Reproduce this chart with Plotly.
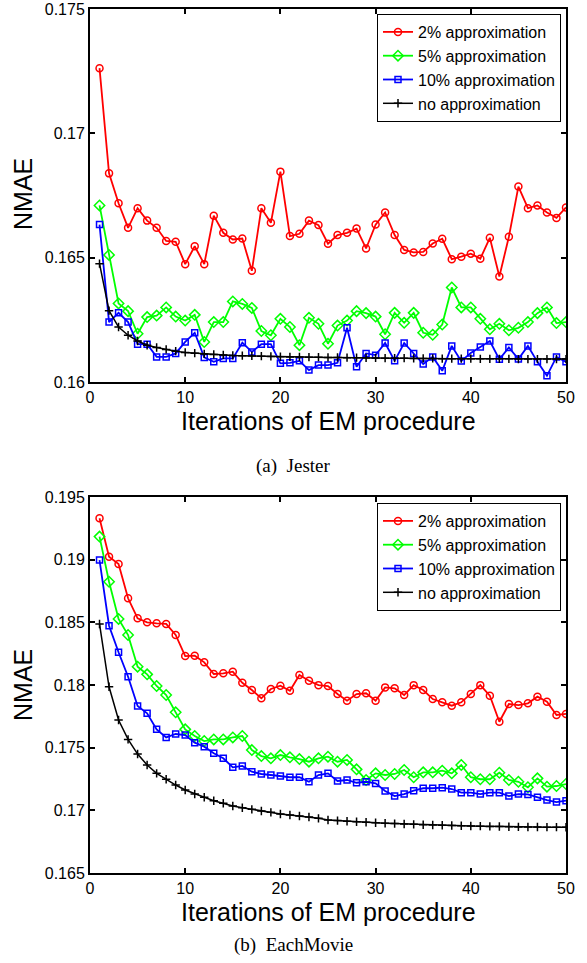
import plotly.graph_objects as go

W, H = 587, 963

iterations = list(range(1, 51))

# ---- (a) Jester ----
jester_2pct = [0.17262, 0.16839, 0.16719, 0.16620, 0.16699, 0.16649, 0.16620, 0.16567, 0.16564, 0.16474,
               0.16546, 0.16474, 0.16669, 0.16600, 0.16573, 0.16577, 0.16447, 0.16699, 0.16640, 0.16846,
               0.16587, 0.16596, 0.16649, 0.16631, 0.16556, 0.16591, 0.16600, 0.16617, 0.16537, 0.16633,
               0.16682, 0.16591, 0.16531, 0.16521, 0.16523, 0.16557, 0.16576, 0.16494, 0.16504, 0.16516,
               0.16496, 0.16580, 0.16424, 0.16584, 0.16786, 0.16699, 0.16710, 0.16682, 0.16660, 0.16702]
jester_5pct = [0.16710, 0.16511, 0.16316, 0.16285, 0.16194, 0.16261, 0.16267, 0.16300, 0.16263, 0.16247,
               0.16270, 0.16161, 0.16241, 0.16241, 0.16324, 0.16314, 0.16298, 0.16205, 0.16188, 0.16254,
               0.16221, 0.16148, 0.16258, 0.16234, 0.16154, 0.16227, 0.16247, 0.16285, 0.16277, 0.16263,
               0.16192, 0.16278, 0.16238, 0.16278, 0.16198, 0.16190, 0.16231, 0.16380, 0.16300, 0.16300,
               0.16254, 0.16212, 0.16234, 0.16208, 0.16218, 0.16241, 0.16277, 0.16300, 0.16237, 0.16241]
jester_10pct = [0.16633, 0.16241, 0.16278, 0.16241, 0.16152, 0.16152, 0.16101, 0.16101, 0.16115, 0.16161,
                0.16198, 0.16099, 0.16081, 0.16095, 0.16095, 0.16158, 0.16121, 0.16152, 0.16152, 0.16075,
                0.16077, 0.16085, 0.16048, 0.16068, 0.16068, 0.16077, 0.16218, 0.16061, 0.16115, 0.16108,
                0.16157, 0.16085, 0.16157, 0.16115, 0.16072, 0.16101, 0.16045, 0.16145, 0.16084, 0.16117,
                0.16141, 0.16165, 0.16091, 0.16139, 0.16092, 0.16145, 0.16081, 0.16025, 0.16101, 0.16081]
jester_none = [0.16476, 0.16287, 0.16221, 0.16188, 0.16165, 0.16148, 0.16139, 0.16131, 0.16124, 0.16119,
               0.16116, 0.16113, 0.16111, 0.16109, 0.16107, 0.16106, 0.16105, 0.16104, 0.16103, 0.16102,
               0.16101, 0.16101, 0.16100, 0.16100, 0.16099, 0.16099, 0.16098, 0.16098, 0.16097, 0.16097,
               0.16096, 0.16096, 0.16096, 0.16095, 0.16095, 0.16095, 0.16094, 0.16094, 0.16094, 0.16094,
               0.16093, 0.16093, 0.16093, 0.16093, 0.16092, 0.16092, 0.16092, 0.16092, 0.16092, 0.16092]

# ---- (b) EachMovie ----
each_2pct = [0.19330, 0.19024, 0.18965, 0.18692, 0.18532, 0.18500, 0.18492, 0.18487, 0.18399, 0.18231,
             0.18234, 0.18181, 0.18088, 0.18093, 0.18106, 0.18018, 0.17960, 0.17894, 0.17968, 0.17994,
             0.17954, 0.18080, 0.18034, 0.17999, 0.17992, 0.17928, 0.17875, 0.17928, 0.17934, 0.17875,
             0.17981, 0.17974, 0.17920, 0.17999, 0.17960, 0.17888, 0.17862, 0.17835, 0.17862, 0.17928,
             0.17999, 0.17915, 0.17707, 0.17848, 0.17840, 0.17854, 0.17907, 0.17867, 0.17761, 0.17769]
each_5pct = [0.19184, 0.18824, 0.18527, 0.18399, 0.18146, 0.18085, 0.17992, 0.17920, 0.17782, 0.17646,
             0.17593, 0.17553, 0.17566, 0.17566, 0.17582, 0.17593, 0.17481, 0.17433, 0.17415, 0.17441,
             0.17423, 0.17409, 0.17388, 0.17415, 0.17428, 0.17388, 0.17402, 0.17327, 0.17242, 0.17295,
             0.17282, 0.17290, 0.17322, 0.17264, 0.17303, 0.17303, 0.17316, 0.17295, 0.17362, 0.17264,
             0.17248, 0.17248, 0.17300, 0.17242, 0.17228, 0.17184, 0.17255, 0.17189, 0.17194, 0.17210]
each_10pct = [0.18997, 0.18473, 0.18261, 0.18066, 0.17832, 0.17774, 0.17646, 0.17582, 0.17609, 0.17601,
              0.17540, 0.17508, 0.17455, 0.17415, 0.17343, 0.17354, 0.17308, 0.17290, 0.17282, 0.17274,
              0.17264, 0.17264, 0.17228, 0.17282, 0.17295, 0.17234, 0.17242, 0.17220, 0.17228, 0.17215,
              0.17154, 0.17114, 0.17130, 0.17157, 0.17176, 0.17176, 0.17181, 0.17170, 0.17141, 0.17141,
              0.17130, 0.17141, 0.17141, 0.17114, 0.17130, 0.17127, 0.17104, 0.17082, 0.17066, 0.17077]
each_none = [0.18487, 0.17986, 0.17721, 0.17566, 0.17449, 0.17362, 0.17295, 0.17248, 0.17202, 0.17162,
             0.17130, 0.17104, 0.17077, 0.17056, 0.17035, 0.17021, 0.17008, 0.16995, 0.16984, 0.16971,
             0.16963, 0.16955, 0.16947, 0.16936, 0.16923, 0.16918, 0.16913, 0.16909, 0.16905, 0.16901,
             0.16897, 0.16894, 0.16891, 0.16888, 0.16885, 0.16883, 0.16881, 0.16879, 0.16877, 0.16875,
             0.16874, 0.16872, 0.16871, 0.16869, 0.16868, 0.16867, 0.16867, 0.16866, 0.16866, 0.16865]

series_names = ["2% approximation", "5% approximation", "10% approximation", "no approximation"]

x_ticks = [0, 10, 20, 30, 40, 50]
top_y_ticks = [0.16, 0.165, 0.17, 0.175]
top_y_labels = ["0.16", "0.165", "0.17", "0.175"]
bot_y_ticks = [0.165, 0.17, 0.175, 0.18, 0.185, 0.19, 0.195]
bot_y_labels = ["0.165", "0.17", "0.175", "0.18", "0.185", "0.19", "0.195"]

captions = ["(a)  Jester", "(b)  EachMovie"]
x_title = "Iterations of EM procedure"
y_title = "NMAE"

styles = [
    dict(color="#ff0000", symbol="circle-open", size=7, width=1.8),
    dict(color="#00ff00", symbol="diamond-open", size=8, width=1.8),
    dict(color="#0000ff", symbol="square-open", size=6, width=1.8),
    dict(color="#000000", symbol="cross-thin-open", size=6, width=1.5),
]

def px_y(py):
    return 1 - py / H

fig = go.Figure()

panels = [
    ([jester_2pct, jester_5pct, jester_10pct, jester_none], "x", "y", "legend"),
    ([each_2pct, each_5pct, each_10pct, each_none], "x2", "y2", "legend2"),
]

for data, xa, ya, lg in panels:
    for name, vals, st in zip(series_names, data, styles):
        fig.add_trace(go.Scatter(
            x=iterations, y=vals, name=name, mode="lines+markers",
            xaxis=xa, yaxis=ya, legend=lg,
            line=dict(color=st["color"], width=st["width"]),
            marker=dict(symbol=st["symbol"], size=st["size"], color=st["color"],
                        line=dict(color=st["color"], width=1.5)),
        ))

font_ticks = dict(family="Liberation Sans, Arial, sans-serif", size=16, color="black")

axis_common = dict(
    showline=True, linecolor="black", linewidth=2, mirror="ticks",
    ticks="inside", ticklen=5, tickwidth=1.5, tickcolor="black",
    showgrid=False, zeroline=False, tickfont=font_ticks, automargin=False,
    ticklabeloverflow="allow",
)

legend_font = dict(family="Liberation Sans, Arial, sans-serif", size=16, color="black")

xdom = [90 / W, 566 / W]
fig.update_layout(
    width=W, height=H,
    margin=dict(l=0, r=0, t=0, b=0, pad=0),
    paper_bgcolor="white", plot_bgcolor="white",
    xaxis=dict(domain=xdom, range=[0, 50], tickvals=x_ticks, anchor="y", **axis_common),
    yaxis=dict(domain=[px_y(382), px_y(9)], range=[0.16, 0.175], tickvals=top_y_ticks,
               ticktext=top_y_labels, anchor="x", **axis_common),
    xaxis2=dict(domain=xdom, range=[0, 50], tickvals=x_ticks, anchor="y2", **axis_common),
    yaxis2=dict(domain=[px_y(873), px_y(497)], range=[0.165, 0.195], tickvals=bot_y_ticks,
                ticktext=bot_y_labels, anchor="x2", **axis_common),
    legend=dict(x=561 / W, xanchor="right", y=px_y(14), yanchor="top",
                bordercolor="black", borderwidth=1, bgcolor="white",
                font=legend_font, tracegroupgap=0, itemwidth=30),
    legend2=dict(x=561 / W, xanchor="right", y=px_y(503), yanchor="top",
                 bordercolor="black", borderwidth=1, bgcolor="white",
                 font=legend_font, tracegroupgap=0, itemwidth=30),
    showlegend=True,
)

title_font = dict(family="Liberation Sans, Arial, sans-serif", size=25, color="black")
cap_font = dict(family="Liberation Serif, Times New Roman, serif", size=19, color="black")
xc = (90 + 566) / 2 / W

for (top_px, bot_px, cap_py, cap) in [(6, 382, 466, captions[0]), (497, 873, 945, captions[1])]:
    fig.add_annotation(text=x_title, xref="paper", yref="paper", x=xc, y=px_y(bot_px + 23),
                       xanchor="center", yanchor="top", showarrow=False, font=title_font)
    fig.add_annotation(text=y_title, xref="paper", yref="paper", x=23 / W,
                       y=px_y((top_px + bot_px) / 2), textangle=-90,
                       xanchor="center", yanchor="middle", showarrow=False, font=title_font)
    fig.add_annotation(text=cap, xref="paper", yref="paper", x=294 / W, y=px_y(cap_py),
                       xanchor="center", yanchor="middle", showarrow=False, font=cap_font)

fig.write_html("out.html", config={"displayModeBar": False},
               post_script="document.body.style.margin='0';")
